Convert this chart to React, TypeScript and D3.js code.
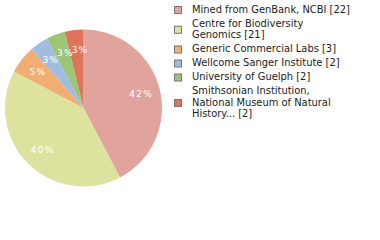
import React from "react";
import * as d3 from "d3";

const categories = [
  "Mined from GenBank, NCBI",
  "Centre for Biodiversity Genomics",
  "Generic Commercial Labs",
  "Wellcome Sanger Institute",
  "University of Guelph",
  "Smithsonian Institution, National Museum of Natural History...",
];
const legendLines = [
  ["Mined from GenBank, NCBI [22]"],
  ["Centre for Biodiversity", "Genomics [21]"],
  ["Generic Commercial Labs [3]"],
  ["Wellcome Sanger Institute [2]"],
  ["University of Guelph [2]"],
  ["Smithsonian Institution,", "National Museum of Natural", "History... [2]"],
];
const values = [22, 21, 3, 2, 2, 2];
const colors = ["#e0a49d", "#dde39f", "#f0ae73", "#9ebde0", "#9cc577", "#de7459"];

export default function App() {
  const W = 380, H = 240;
  const cx = 83.5, cy = 108, r = 78.5;
  const pie = d3.pie<number>().sort(null).value((d) => d);
  const arcs = pie(values);
  const arc = d3.arc<d3.PieArcDatum<number>>().innerRadius(0).outerRadius(r);
  const labelArc = d3.arc<d3.PieArcDatum<number>>().innerRadius(58.7).outerRadius(58.7);
  const total = d3.sum(values);

  // label layout with simple collision avoidance (shift right)
  const fs = 9, ls = 1.2, pad = 0.5;
  const labels = arcs.map((a, i) => {
    const text = `${Math.floor((values[i] / total) * 100)}%`;
    const [lx, ly] = labelArc.centroid(a);
    const w = (text.length - 1) * (fs * 0.636 + ls) + fs * 0.8;
    return { text, x: lx, y: ly, w, h: fs * 0.75 };
  });
  for (let i = 1; i < labels.length; i++) {
    const p = labels[i - 1], c = labels[i];
    const vOverlap = Math.abs(p.y - c.y) < (p.h + c.h) / 2;
    const left = c.x - c.w / 2, pRight = p.x + p.w / 2;
    if (vOverlap && left < pRight + pad && c.x > p.x) c.x += pRight + pad - left;
  }

  const lineH = 11.5, gap = 14;
  let y = 9;
  const items = legendLines.map((lines, i) => {
    const ys = lines.map((_, j) => y + j * lineH);
    y = ys[ys.length - 1] + gap;
    return { lines, ys, i };
  });

  return (
    <svg width={W} height={H} style={{ position: "absolute", left: 0, top: 0 }}>
      <g transform={`translate(${cx},${cy})`}>
        {arcs.map((a, i) => (
          <path key={i} d={arc(a) || ""} fill={colors[i]} />
        ))}
        {labels.map((l, i) => (
          <text key={i} x={l.x + ls / 2} y={l.y} fill="#fff" fontFamily="DejaVu Sans" fontSize={fs}
            letterSpacing={ls} textAnchor="middle" dominantBaseline="central">
            {l.text}
          </text>
        ))}
      </g>
      {items.map(({ lines, ys, i }) => {
        const mid = (ys[0] + ys[ys.length - 1]) / 2;
        return (
          <g key={i}>
            <rect x={174.5} y={mid - 2.5} width={7} height={7} fill={colors[i]} stroke="#777" strokeWidth={1} />
            {lines.map((l, j) => (
              <text key={j} x={192} y={ys[j]} fontFamily="DejaVu Sans Condensed" fontSize={11}
                fill="#222" dominantBaseline="central">{l}</text>
            ))}
          </g>
        );
      })}
    </svg>
  );
}
